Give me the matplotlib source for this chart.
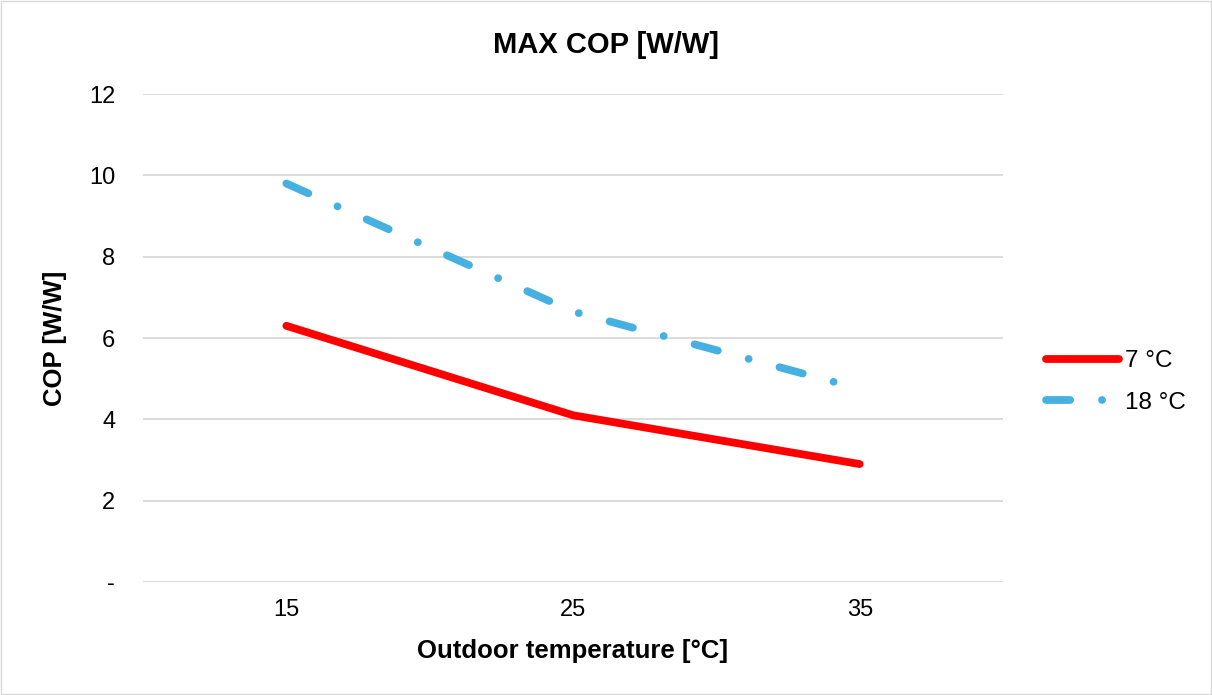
import matplotlib.pyplot as plt
from matplotlib.ticker import FuncFormatter

plt.rcParams['font.family'] = ['Liberation Sans', 'DejaVu Sans']

temps = ['15', '25', '35']
cop_7 = [6.3, 4.1, 2.9]
cop_18 = [9.8, 6.65, 4.75]

fig = plt.figure(figsize=(12.12, 6.95), dpi=100)
ax = fig.add_axes([0.118, 0.1626, 0.7096, 0.7021])

x = range(len(temps))
ax.plot(x, cop_7, color='#ff0000', lw=5.6, solid_capstyle='round', solid_joinstyle='round', label='7 °C')
ax.plot(x, cop_18, color='#46b1e1', lw=5.6, linestyle=(0, (3.1, 4.1, 0.01, 4.1)),
        dash_capstyle='round', label='18 °C')

ax.set_xlim(-0.5, 2.5)
ax.set_ylim(0, 12)
ax.set_yticks(range(0, 13, 2))
ax.yaxis.set_major_formatter(FuncFormatter(lambda v, p: '-' if v == 0 else f'{int(v)}'))
ax.set_xticks(list(x))
ax.set_xticklabels(temps)
ax.grid(axis='y', color='#d9d9d9', lw=1.3)
ax.set_axisbelow(True)
for s in ax.spines.values():
    s.set_visible(False)
ax.tick_params(length=0, labelsize=17, pad=12)
ax.tick_params(axis='y', pad=20)

fig.text(0.5, 0.935, 'MAX COP [W/W]', ha='center', va='center', fontsize=21, fontweight='bold')
ax.set_xlabel('Outdoor temperature [°C]', fontsize=18.5, fontweight='bold', labelpad=13)
ax.set_ylabel('COP [W/W]', fontsize=18.5, fontweight='bold', labelpad=16)

ax.legend(loc='center left', bbox_to_anchor=(1.025, 0.41), frameon=False, fontsize=17.5,
          handlelength=3.0, handletextpad=0.25, labelspacing=0.8)

fig.patches.append(plt.Rectangle((0.001, 0.001), 0.998, 0.998, transform=fig.transFigure,
                                 fill=False, edgecolor='#d9d9d9', lw=1))
fig.savefig('out.png', dpi=100)
